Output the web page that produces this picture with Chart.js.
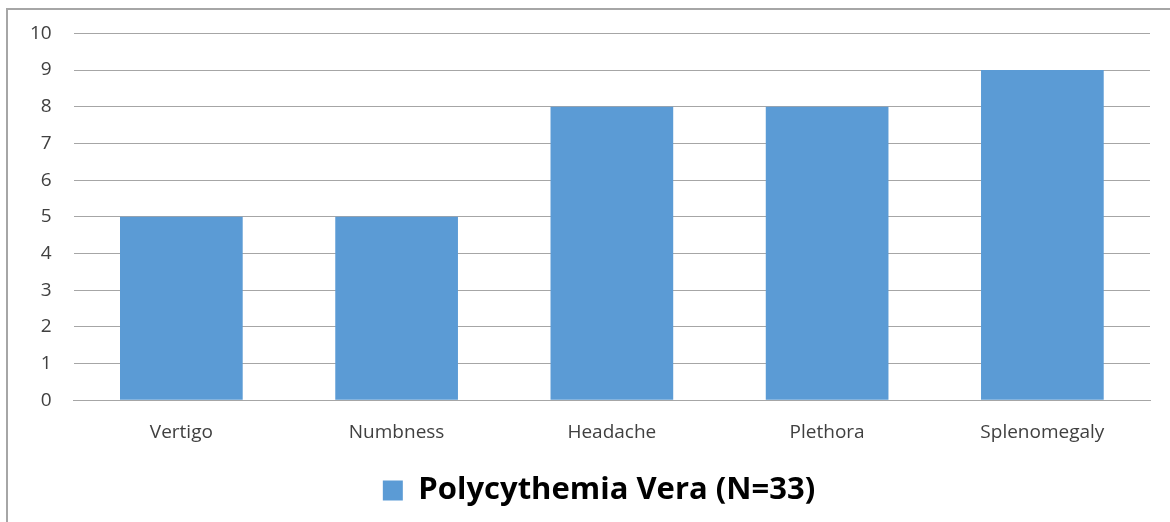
<!DOCTYPE html>
<html>
<head>
<meta charset="utf-8">
<script src="https://cdn.jsdelivr.net/npm/chart.js@4/dist/chart.umd.min.js"></script>
<style>
  html, body { margin: 0; padding: 0; background: #fff; }
  #frame { position: absolute; left: 6px; top: 8px; width: 1170px; height: 520px;
           border-left: 2px solid #a6a6a6; border-top: 2px solid #a6a6a6; box-sizing: border-box; }
  #wrap { position: absolute; left: 0; top: 0; width: 1170px; height: 522px; }
</style>
</head>
<body>
<div id="frame"></div>
<div id="wrap"><canvas id="c" width="1170" height="522"></canvas></div>
<script>
const categories = ["Vertigo", "Numbness", "Headache", "Plethora", "Splenomegaly"];
const seriesName = "Polycythemia Vera (N=33)";
const values = [5, 5, 8, 8, 9];
const yTicks = [0, 1, 2, 3, 4, 5, 6, 7, 8, 9, 10];

const shiftLegend = {
  id: 'shiftLegend',
  afterLayout(chart) {
    if (chart.legend) { chart.legend.left += 20; chart.legend.right += 20; }
  }
};

new Chart(document.getElementById('c'), {
  type: 'bar',
  data: {
    labels: categories,
    datasets: [{
      label: seriesName,
      data: values,
      backgroundColor: '#5b9bd5',
      borderWidth: 0,
      categoryPercentage: 1.0,
      barPercentage: 0.57
    }]
  },
  plugins: [shiftLegend],
  options: {
    responsive: false,
    animation: false,
    devicePixelRatio: 1,
    layout: { padding: { left: 8, right: 20, top: 32, bottom: 6 } },
    plugins: {
      tooltip: { enabled: false },
      legend: {
        position: 'bottom',
        labels: {
          color: '#000',
          font: { family: 'Open Sans', size: 31, weight: 'bold' },
          boxWidth: 20, boxHeight: 20, padding: 10
        }
      }
    },
    scales: {
      x: {
        grid: { display: false, drawTicks: false },
        border: { display: true, color: '#a6a6a6', width: 1 },
        ticks: { color: '#404040', font: { family: 'Open Sans', size: 19 }, padding: 21 }
      },
      y: {
        min: 0, max: 10,
        afterBuildTicks: (axis) => { axis.ticks = yTicks.map(v => ({ value: v })); },
        grid: { color: '#a6a6a6', lineWidth: 1, drawTicks: false },
        border: { display: false },
        ticks: { color: '#404040', font: { family: 'Open Sans', size: 19 }, padding: 22 }
      }
    }
  }
});
</script>
</body>
</html>
